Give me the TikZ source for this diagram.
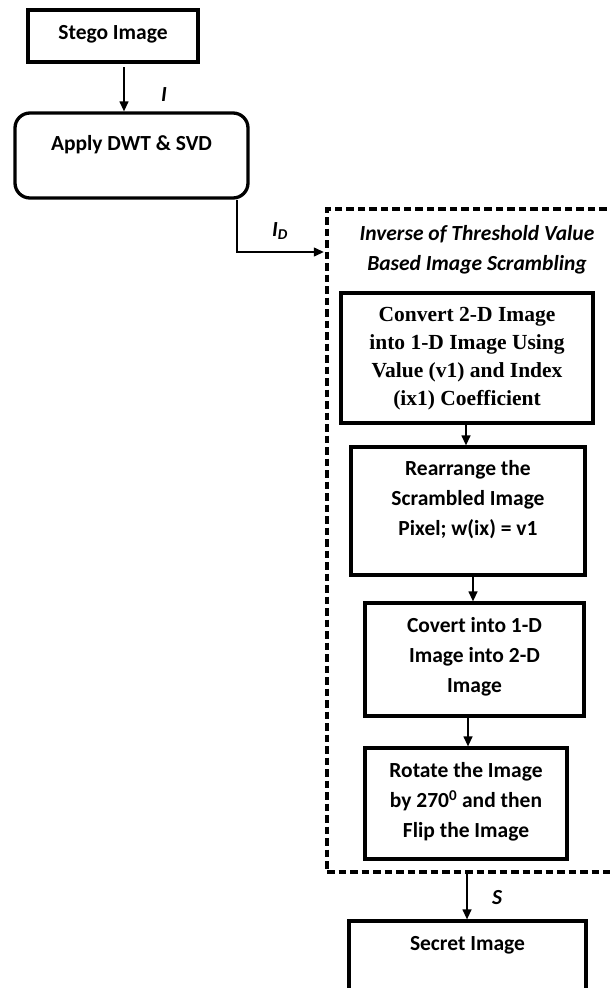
\documentclass[tikz,border=0pt]{standalone}
\usepackage{fontspec}
\setmainfont{Carlito}
\newfontfamily\timesfont{Liberation Serif}
\usetikzlibrary{arrows.meta}
\begin{document}
\begin{tikzpicture}[x=1pt,y=-1pt,
  box/.style={draw, line width=3.3pt, inner sep=0pt},
  txt/.style={font=\fontsize{21.5}{30}\selectfont\bfseries, align=center, inner sep=0pt},
  serif/.style={font=\timesfont\fontsize{21.5}{28}\selectfont\bfseries, align=center, inner sep=0pt},
  conn/.style={line width=1.3pt, -{Triangle[length=10pt,width=9pt]}},
  lbl/.style={font=\fontsize{21.5}{26}\selectfont\bfseries\itshape, inner sep=0pt},
  frame/.style={draw, line width=3.2pt, dash pattern=on 7.5pt off 4pt, inner sep=0pt}]
\useasboundingbox (0,0) rectangle (610,988);
\clip (0,0) rectangle (610,988);

% left column
\node[box, minimum width=170pt, minimum height=52pt] (stego) at (113,36) {};
\node[txt] (stegot) at (113,34) {Stego Image};
\node[box, rounded corners=15pt, minimum width=233pt, minimum height=85pt] (apply) at (131.5,155.5) {};
\node[txt] (applyt) at (131.5,145) {Apply DWT \& SVD};

% dashed frame
\node[frame, minimum width=320pt, minimum height=663pt] (frame) at (487,540.5) {};
\node[lbl, align=center, font=\fontsize{21.5}{30}\selectfont\bfseries\itshape] (title) at (477,250) {Inverse of Threshold Value\\Based Image Scrambling};

% inner boxes
\node[box, minimum width=252pt, minimum height=130pt] (b1) at (467,358) {};
\node[serif] (b1t) at (467,359) {Convert 2-D Image\\into 1-D Image Using\\Value (v1) and Index\\(ix1) Coefficient};
\node[box, minimum width=234pt, minimum height=128pt] (b2) at (468,511) {};
\node[txt] (b2t) at (468,500) {Rearrange the\\Scrambled Image\\Pixel; w(ix) = v1};
\node[box, minimum width=219pt, minimum height=113pt] (b3) at (474.5,659.5) {};
\node[txt] (b3t) at (474.5,657) {Covert into 1-D\\Image into 2-D\\Image};
\node[box, minimum width=202pt, minimum height=111pt] (b4) at (466,803.5) {};
\node[txt] (b4t) at (466,802) {Rotate the Image\\by 270\textsuperscript{0} and then\\Flip the Image};

% secret
\node[box, minimum width=237pt, minimum height=120pt] (secret) at (467.5,981) {};
\node[txt] (secrett) at (467.5,945) {Secret Image};

% labels
\node[lbl] (lI) at (164,95) {I};
\node[lbl] (lID) at (280,231) {I\textsubscript{D}};
\node[lbl] (lS) at (497,898) {S};

% connector coordinates
\coordinate (a1) at (124,67);
\coordinate (d1) at (237,0);
\coordinate (idy) at (0,252);
\coordinate (c1) at (466,0);
\coordinate (c2) at (473,0);
\coordinate (c3) at (468,0);
\coordinate (c4) at (467,0);

\draw[conn] (a1) -- (a1 |- apply.north);
\draw[conn, shorten >=1.6pt] (d1 |- apply.south) |- (frame.west |- idy);
\draw[conn] (c1 |- b1.south) -- (c1 |- b2.north);
\draw[conn] (c2 |- b2.south) -- (c2 |- b3.north);
\draw[conn] (c3 |- b3.south) -- (c3 |- b4.north);
\draw[conn] (c4 |- frame.south) -- (c4 |- secret.north);
\end{tikzpicture}
\end{document}
